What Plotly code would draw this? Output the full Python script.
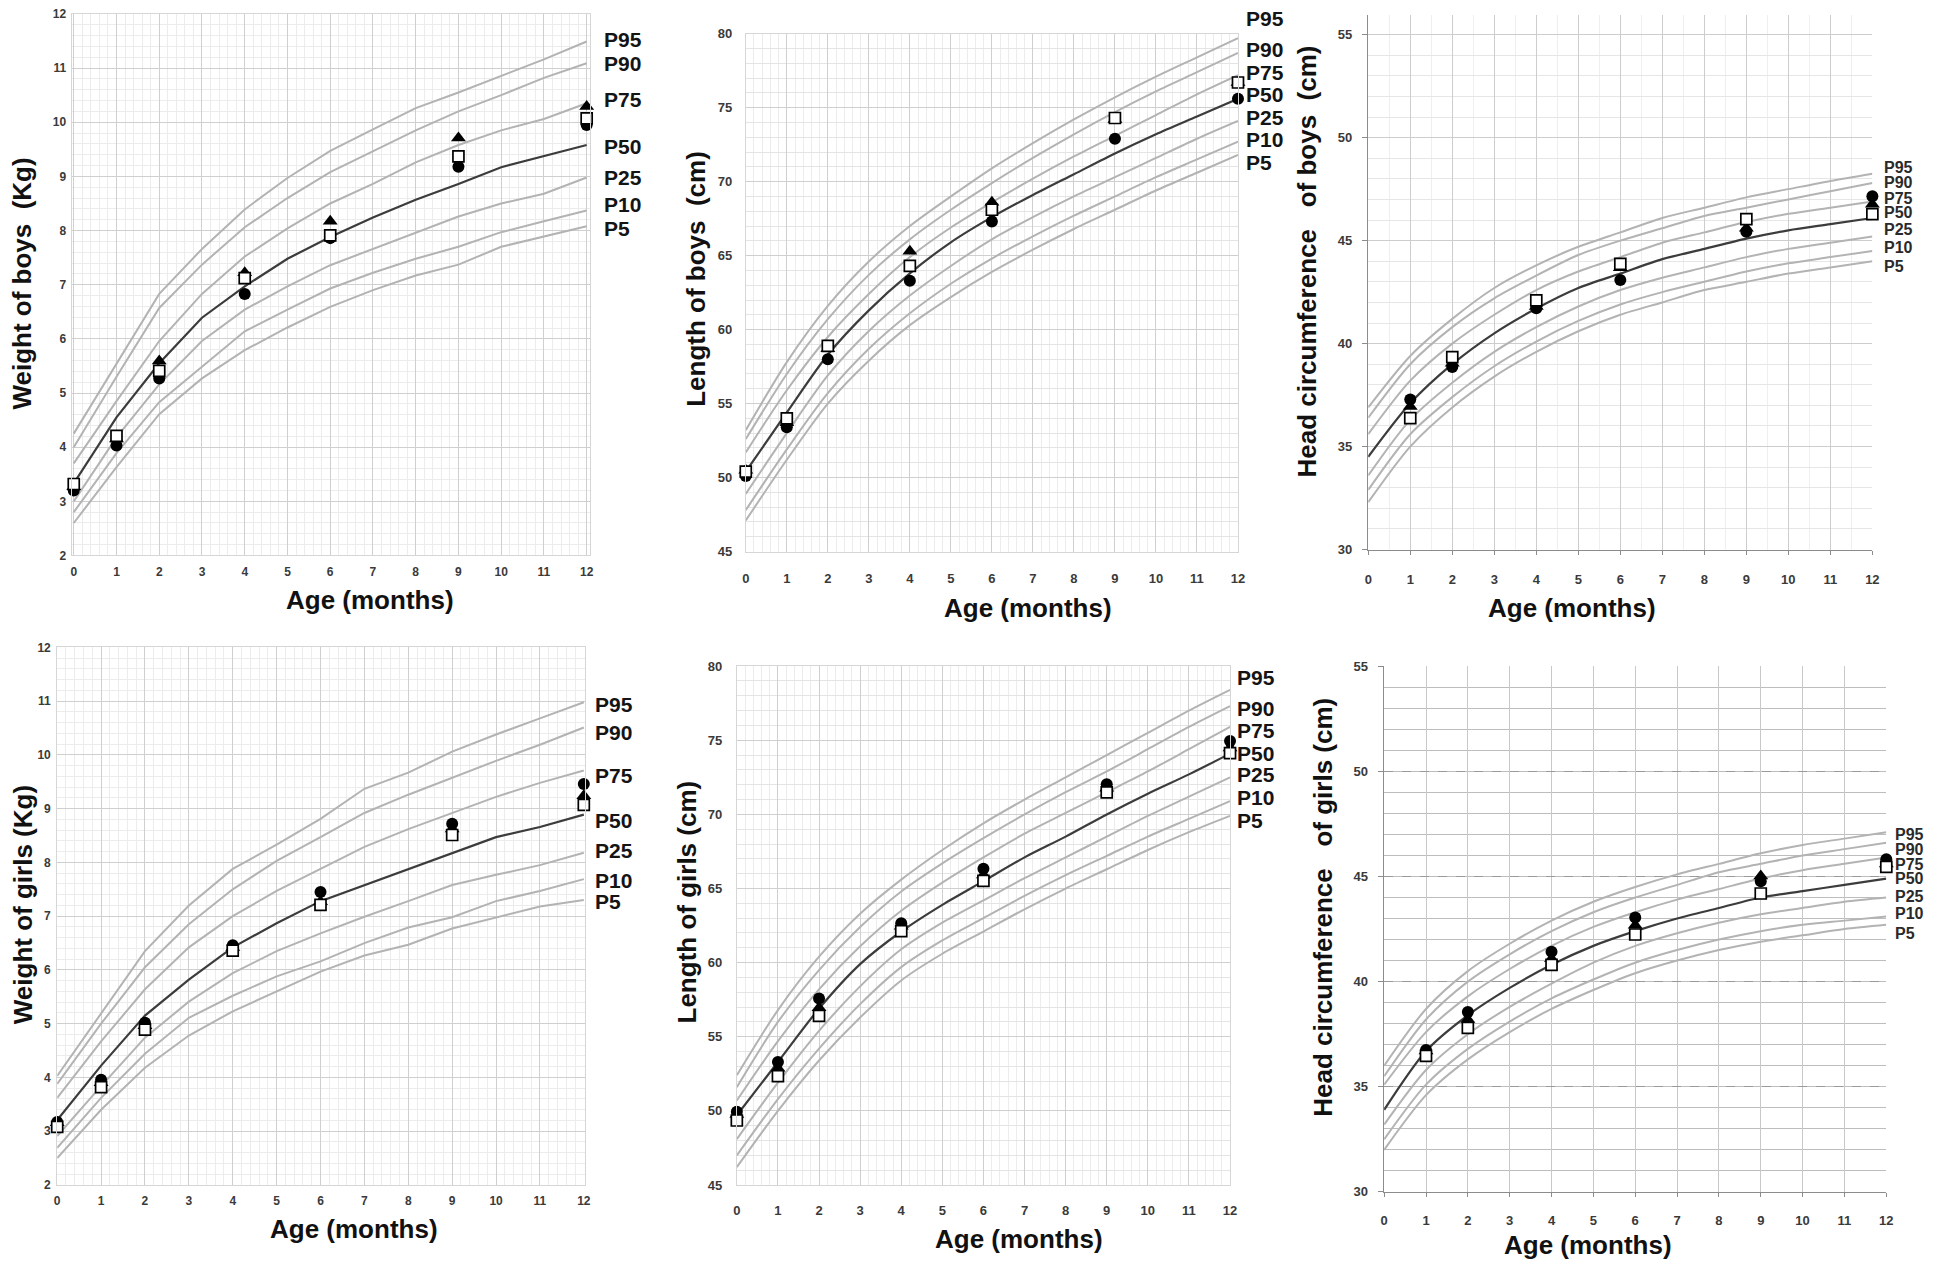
import plotly.graph_objects as go

FIG_W, FIG_H = 1946, 1277
FONT = "Arial, 'Liberation Sans', Helvetica, sans-serif"

# ---------------- data ----------------
MONTHS = [0, 1, 2, 3, 4, 5, 6, 7, 8, 9, 10, 11, 12]
VISITS = [0, 1, 2, 4, 6, 9, 12]
HC_VISITS = [1, 2, 4, 6, 9, 12]
PCT_LABELS = ["P95", "P90", "P75", "P50", "P25", "P10", "P5"]
X_TICK_VALS = MONTHS
X_TICK_TEXT = [str(m) for m in MONTHS]
W_Y_TICKS = [2, 3, 4, 5, 6, 7, 8, 9, 10, 11, 12]
L_Y_TICKS = [45, 50, 55, 60, 65, 70, 75, 80]
HC_Y_TICKS = [30, 35, 40, 45, 50, 55]

# Weight of boys (kg)
BW_P95 = [4.25, 5.55, 6.83, 7.66, 8.39, 8.97, 9.47, 9.87, 10.26, 10.55, 10.85, 11.16, 11.49]
BW_P90 = [4.00, 5.30, 6.57, 7.37, 8.06, 8.60, 9.08, 9.47, 9.85, 10.20, 10.50, 10.82, 11.09]
BW_P75 = [3.70, 4.85, 5.96, 6.83, 7.52, 8.04, 8.50, 8.86, 9.26, 9.58, 9.85, 10.06, 10.35]
BW_P50 = [3.33, 4.55, 5.55, 6.39, 6.97, 7.48, 7.88, 8.24, 8.57, 8.86, 9.17, 9.37, 9.58]
BW_P25 = [3.00, 4.18, 5.16, 5.96, 6.54, 6.97, 7.36, 7.66, 7.97, 8.26, 8.50, 8.68, 8.98]
BW_P10 = [2.80, 3.89, 4.83, 5.48, 6.14, 6.54, 6.93, 7.22, 7.48, 7.70, 7.97, 8.17, 8.37]
BW_P5 = [2.60, 3.63, 4.61, 5.27, 5.79, 6.21, 6.59, 6.90, 7.17, 7.37, 7.70, 7.89, 8.08]
BW_CIRCLE = [3.20, 4.03, 5.27, 6.83, 7.86, 9.18, 9.95]
BW_TRIANGLE = [3.27, 4.15, 5.59, 7.22, 8.17, 9.71, 10.29]
BW_SQUARE = [3.32, 4.21, 5.41, 7.12, 7.91, 9.37, 10.07]

# Length of boys (cm)
BL_P95 = [53.2, 57.8, 61.6, 64.6, 67.0, 69.0, 70.9, 72.6, 74.2, 75.7, 77.1, 78.4, 79.7]
BL_P90 = [52.6, 57.0, 60.7, 63.7, 66.1, 68.1, 69.9, 71.6, 73.2, 74.7, 76.1, 77.4, 78.7]
BL_P75 = [51.7, 55.9, 59.5, 62.4, 64.9, 66.9, 68.6, 70.2, 71.7, 73.1, 74.5, 75.9, 77.2]
BL_P50 = [50.4, 54.4, 58.3, 61.3, 63.8, 65.9, 67.6, 69.1, 70.5, 71.9, 73.2, 74.4, 75.6]
BL_P25 = [48.9, 53.0, 56.9, 59.9, 62.3, 64.3, 66.1, 67.6, 69.0, 70.3, 71.6, 72.9, 74.1]
BL_P10 = [47.8, 51.9, 55.7, 58.7, 61.1, 63.1, 64.8, 66.3, 67.7, 69.0, 70.3, 71.5, 72.7]
BL_P5 = [47.1, 51.2, 55.0, 57.9, 60.3, 62.2, 63.9, 65.4, 66.8, 68.1, 69.4, 70.6, 71.8]
BL_CIRCLE = [50.1, 53.4, 58.0, 63.3, 67.3, 72.9, 75.6]
BL_TRIANGLE = [50.5, 53.7, 58.7, 65.3, 68.6, 74.2, 76.7]
BL_SQUARE = [50.4, 54.0, 58.9, 64.3, 68.1, 74.3, 76.7]

# Head circumference of boys (cm)
BH_P95 = [36.9, 39.4, 41.2, 42.7, 43.8, 44.7, 45.4, 46.1, 46.6, 47.1, 47.5, 47.9, 48.25]
BH_P90 = [36.4, 39.0, 40.8, 42.2, 43.3, 44.3, 45.0, 45.6, 46.2, 46.6, 47.0, 47.4, 47.8]
BH_P75 = [35.6, 38.2, 40.0, 41.4, 42.6, 43.5, 44.2, 44.9, 45.4, 45.9, 46.3, 46.6, 46.9]
BH_P50 = [34.5, 37.1, 39.0, 40.5, 41.7, 42.7, 43.4, 44.1, 44.6, 45.1, 45.5, 45.8, 46.1]
BH_P25 = [33.6, 36.3, 38.1, 39.6, 40.8, 41.8, 42.6, 43.2, 43.7, 44.2, 44.6, 44.9, 45.2]
BH_P10 = [32.9, 35.6, 37.4, 38.9, 40.1, 41.1, 41.9, 42.5, 43.0, 43.5, 43.9, 44.2, 44.5]
BH_P5 = [32.3, 35.0, 36.9, 38.4, 39.6, 40.6, 41.4, 42.0, 42.6, 43.0, 43.4, 43.7, 44.0]
BH_CIRCLE = [37.28, 38.86, 41.72, 43.09, 45.43, 47.15]
BH_TRIANGLE = [36.95, 39.05, 41.80, 43.68, 45.60, 46.77]
BH_SQUARE = [36.38, 39.34, 42.10, 43.87, 46.04, 46.29]

# Weight of girls (kg)
GW_P95 = [4.03, 5.20, 6.35, 7.20, 7.88, 8.33, 8.81, 9.37, 9.67, 10.06, 10.38, 10.68, 10.98]
GW_P90 = [3.88, 5.00, 6.05, 6.85, 7.50, 8.03, 8.47, 8.92, 9.26, 9.58, 9.89, 10.19, 10.51]
GW_P75 = [3.62, 4.67, 5.64, 6.42, 7.00, 7.47, 7.88, 8.29, 8.62, 8.92, 9.22, 9.48, 9.71]
GW_P50 = [3.21, 4.22, 5.15, 5.82, 6.42, 6.87, 7.28, 7.58, 7.88, 8.18, 8.47, 8.66, 8.89]
GW_P25 = [2.91, 3.84, 4.74, 5.41, 5.94, 6.35, 6.68, 6.99, 7.28, 7.58, 7.77, 7.95, 8.18]
GW_P10 = [2.69, 3.62, 4.44, 5.11, 5.52, 5.88, 6.16, 6.50, 6.79, 6.98, 7.28, 7.47, 7.69]
GW_P5 = [2.50, 3.40, 4.18, 4.78, 5.23, 5.60, 5.97, 6.27, 6.47, 6.77, 6.98, 7.18, 7.30]
GW_CIRCLE = [3.17, 3.96, 5.02, 6.46, 7.45, 8.72, 9.46]
GW_TRIANGLE = [3.16, 3.90, 4.96, 6.42, 7.27, 8.62, 9.24]
GW_SQUARE = [3.08, 3.82, 4.89, 6.36, 7.21, 8.51, 9.07]

# Length of girls (cm)
GL_P95 = [52.4, 56.8, 60.4, 63.3, 65.6, 67.6, 69.4, 71.0, 72.5, 74.0, 75.5, 77.0, 78.4]
GL_P90 = [51.6, 56.0, 59.5, 62.4, 64.8, 66.7, 68.4, 70.0, 71.5, 72.9, 74.4, 75.9, 77.3]
GL_P75 = [50.7, 54.7, 58.2, 61.1, 63.5, 65.4, 67.1, 68.7, 70.1, 71.5, 72.9, 74.4, 75.9]
GL_P50 = [49.7, 53.3, 56.9, 59.9, 62.1, 63.9, 65.5, 67.1, 68.5, 70.0, 71.4, 72.7, 74.1]
GL_P25 = [48.1, 51.9, 55.4, 58.4, 60.9, 62.7, 64.2, 65.7, 67.1, 68.5, 69.9, 71.2, 72.5]
GL_P10 = [47.0, 50.8, 54.2, 57.2, 59.7, 61.5, 63.0, 64.5, 65.9, 67.2, 68.5, 69.7, 70.9]
GL_P5 = [46.2, 50.0, 53.4, 56.3, 58.8, 60.6, 62.1, 63.6, 65.0, 66.3, 67.6, 68.8, 69.9]
GL_CIRCLE = [49.95, 53.29, 57.58, 62.66, 66.33, 72.04, 74.95]
GL_TRIANGLE = [49.76, 52.88, 56.96, 62.45, 65.92, 71.77, 74.48]
GL_SQUARE = [49.35, 52.34, 56.41, 62.12, 65.52, 71.49, 74.13]

# Head circumference of girls (cm)
GH_P95 = [36.0, 38.7, 40.5, 41.8, 42.9, 43.8, 44.5, 45.1, 45.6, 46.1, 46.5, 46.8, 47.1]
GH_P90 = [35.5, 38.2, 40.0, 41.3, 42.4, 43.3, 44.0, 44.6, 45.2, 45.6, 46.0, 46.3, 46.6]
GH_P75 = [35.1, 37.6, 39.3, 40.6, 41.7, 42.6, 43.3, 43.9, 44.4, 44.9, 45.3, 45.6, 45.9]
GH_P50 = [33.9, 36.7, 38.4, 39.7, 40.8, 41.7, 42.4, 43.0, 43.5, 44.0, 44.3, 44.6, 44.9]
GH_P25 = [33.2, 35.8, 37.5, 38.8, 39.9, 40.9, 41.7, 42.3, 42.8, 43.2, 43.5, 43.8, 44.0]
GH_P10 = [32.5, 35.1, 36.8, 38.1, 39.2, 40.1, 40.9, 41.5, 42.0, 42.4, 42.7, 42.9, 43.1]
GH_P5 = [32.0, 34.6, 36.3, 37.6, 38.7, 39.6, 40.4, 41.0, 41.5, 41.9, 42.2, 42.5, 42.7]
GH_CIRCLE = [36.75, 38.55, 41.42, 43.05, 44.77, 45.82]
GH_TRIANGLE = [36.70, 38.20, 41.09, 42.68, 45.02, 45.59]
GH_SQUARE = [36.47, 37.80, 40.80, 42.24, 44.19, 45.46]

# ---------------- layout / style (pixel geometry of the page) ----------------
PANELS = [
    dict(curves=[BW_P95, BW_P90, BW_P75, BW_P50, BW_P25, BW_P10, BW_P5], visits=VISITS,
         circle=BW_CIRCLE, tri=BW_TRIANGLE, sq=BW_SQUARE, yticks=W_Y_TICKS,
         ytitle="Weight of boys\u00a0 (Kg)", grid="fine", yminor=0.2, spline=False,
         box=(68, 7, 589, 555), xr=[-0.05, 12.07], yr=[2, 12],
         xstand=5, ystand=2, tsize=12,
         ytitle_xy=(18, 280), xtitle_xy=(368, 600),
         plab_x=601, plab_y=[33, 57, 94, 141, 173, 200, 224], plab_size=21),
    dict(curves=[BL_P95, BL_P90, BL_P75, BL_P50, BL_P25, BL_P10, BL_P5], visits=VISITS,
         circle=BL_CIRCLE, tri=BL_TRIANGLE, sq=BL_SQUARE, yticks=L_Y_TICKS,
         ytitle="Length of boys\u00a0 (cm)", grid="fine", yminor=1, spline=True,
         box=(746, 27, 1241, 551), xr=[0, 12], yr=[45, 80],
         xstand=15, ystand=10, tsize=13,
         ytitle_xy=(696, 275), xtitle_xy=(1030, 608),
         plab_x=1247, plab_y=[12, 43, 66, 89, 111.5, 134.5, 157.5], plab_size=21),
    dict(curves=[BH_P95, BH_P90, BH_P75, BH_P50, BH_P25, BH_P10, BH_P5], visits=HC_VISITS,
         circle=BH_CIRCLE, tri=BH_TRIANGLE, sq=BH_SQUARE, yticks=HC_Y_TICKS,
         ytitle="Head circumference\u00a0\u00a0 of boys\u00a0 (cm)", grid="hcb", yminor=1, spline=True,
         box=(1372, 8, 1879, 549), xr=[0, 12], yr=[30, 55.96],
         xstand=13, ystand=7, tsize=13,
         ytitle_xy=(1310, 258), xtitle_xy=(1577, 608),
         plab_x=1889, plab_y=[162.7, 177.4, 193.7, 208.3, 225.4, 242.9, 262.7], plab_size=16),
    dict(curves=[GW_P95, GW_P90, GW_P75, GW_P50, GW_P25, GW_P10, GW_P5], visits=VISITS,
         circle=GW_CIRCLE, tri=GW_TRIANGLE, sq=GW_SQUARE, yticks=W_Y_TICKS,
         ytitle="Weight of girls (Kg)", grid="fine", yminor=0.2, spline=False,
         box=(53.5, 648, 584, 1192), xr=[0, 12.02], yr=[2, 12],
         xstand=5, ystand=3, tsize=12,
         ytitle_xy=(19, 908), xtitle_xy=(352, 1237),
         plab_x=592, plab_y=[705.7, 734, 778, 822.7, 854, 883.6, 904.8], plab_size=21),
    dict(curves=[GL_P95, GL_P90, GL_P75, GL_P50, GL_P25, GL_P10, GL_P5], visits=VISITS,
         circle=GL_CIRCLE, tri=GL_TRIANGLE, sq=GL_SQUARE, yticks=L_Y_TICKS,
         ytitle="Length of girls (cm)", grid="fine", yminor=1, spline=True,
         box=(737, 667, 1233, 1192), xr=[0, 12], yr=[45, 80],
         xstand=13, ystand=11, tsize=13,
         ytitle_xy=(687, 906), xtitle_xy=(1021, 1247),
         plab_x=1238, plab_y=[678.4, 710.2, 732.2, 755.1, 777.1, 799.9, 823.1], plab_size=21),
    dict(curves=[GH_P95, GH_P90, GH_P75, GH_P50, GH_P25, GH_P10, GH_P5], visits=HC_VISITS,
         circle=GH_CIRCLE, tri=GH_TRIANGLE, sq=GH_SQUARE, yticks=HC_Y_TICKS,
         ytitle="Head circumference\u00a0\u00a0 of girls (cm)", grid="hcg", yminor=1, spline=True,
         box=(1388, 667, 1893, 1199), xr=[0, 12], yr=[30, 55],
         xstand=12, ystand=7, tsize=13,
         ytitle_xy=(1327, 911), xtitle_xy=(1593, 1253),
         plab_x=1900, plab_y=[837.5, 852.2, 867.2, 882.3, 899.8, 917.3, 937.2], plab_size=16),
]

LIGHT_CURVE = "#b3b3b3"
DARK_CURVE = "#3c3c3c"
TICK_COLOR = "#3a3a3a"

fig = go.Figure()
layout = dict(width=FIG_W, height=FIG_H, margin=dict(l=0, r=0, t=0, b=0),
              paper_bgcolor="white", plot_bgcolor="white", showlegend=False,
              hovermode=False)
annotations = []


def ann(text, xpx, ypx, size, angle=0, xanchor="center", color="#111111"):
    return dict(text="<b>" + text + "</b>", x=xpx / FIG_W, y=1 - ypx / FIG_H,
                xref="paper", yref="paper", showarrow=False, textangle=angle,
                xanchor=xanchor, yanchor="middle",
                font=dict(family=FONT, size=size, color=color))


for i, p in enumerate(PANELS, start=1):
    xa = "x" if i == 1 else f"x{i}"
    ya = "y" if i == 1 else f"y{i}"
    x0, y0, x1, y1 = p["box"]

    # percentile curves
    for name, vals in zip(PCT_LABELS, p["curves"]):
        is_med = name == "P50"
        fig.add_trace(go.Scatter(
            x=MONTHS, y=vals, mode="lines", xaxis=xa, yaxis=ya, hoverinfo="skip",
            line=dict(color=DARK_CURVE if is_med else LIGHT_CURVE,
                      width=2.2 if is_med else 2.0,
                      shape="spline" if p["spline"] else "linear", smoothing=0.8)))

    # measured groups
    fig.add_trace(go.Scatter(x=p["visits"], y=p["circle"], mode="markers", xaxis=xa, yaxis=ya,
                             cliponaxis=False,
                             marker=dict(symbol="circle", size=12, color="black")))
    fig.add_trace(go.Scatter(x=p["visits"], y=p["tri"], mode="markers", xaxis=xa, yaxis=ya,
                             cliponaxis=False,
                             marker=dict(symbol="triangle-up", size=13, color="black")))
    fig.add_trace(go.Scatter(x=p["visits"], y=p["sq"], mode="markers", xaxis=xa, yaxis=ya,
                             cliponaxis=False,
                             marker=dict(symbol="square", size=11, color="white",
                                         line=dict(color="black", width=1.7))))

    tickfont = dict(family=FONT, size=p["tsize"], color=TICK_COLOR, weight="bold")
    xaxis = dict(domain=[x0 / FIG_W, x1 / FIG_W], range=p["xr"], anchor=ya,
                 tickvals=X_TICK_VALS, ticktext=X_TICK_TEXT, tickfont=tickfont,
                 zeroline=False, showgrid=True, gridwidth=1, fixedrange=True,
                 ticklabelstandoff=p["xstand"])
    yaxis = dict(domain=[1 - y1 / FIG_H, 1 - y0 / FIG_H], range=p["yr"], anchor=xa,
                 tickvals=p["yticks"], ticktext=[str(v) for v in p["yticks"]], tickfont=tickfont,
                 zeroline=False, showgrid=True, gridwidth=1, fixedrange=True,
                 ticklabelstandoff=p["ystand"])
    if p["grid"] == "fine":
        xaxis.update(gridcolor="#cfcfcf", ticks="", showline=True, linecolor="#d6d6d6",
                     mirror=True,
                     minor=dict(dtick=0.2, showgrid=True, gridcolor="#ececec", gridwidth=1))
        yaxis.update(gridcolor="#cfcfcf", ticks="", showline=True, linecolor="#d6d6d6",
                     mirror=True,
                     minor=dict(dtick=p["yminor"], showgrid=True,
                                gridcolor="#e4e4e4" if p["yminor"] == 1 else "#ececec",
                                gridwidth=1))
    elif p["grid"] == "hcb":
        xaxis.update(gridcolor="#cdcdcd", ticks="outside", ticklen=4, tickcolor="#8c8c8c",
                     showline=True, linecolor="#8c8c8c", linewidth=1.5,
                     minor=dict(dtick=0.5, showgrid=True, gridcolor="#efefef", gridwidth=1))
        yaxis.update(gridcolor="#cdcdcd", ticks="outside", ticklen=5, tickcolor="#8c8c8c",
                     showline=True, linecolor="#8c8c8c", linewidth=1.5,
                     minor=dict(dtick=1, showgrid=True, gridcolor="#e6e6e6", gridwidth=1))
    else:  # hcg
        xaxis.update(gridcolor="#c8c8c8", ticks="outside", ticklen=4, tickcolor="#8c8c8c",
                     showline=True, linecolor="#8c8c8c", linewidth=1.5)
        yaxis.update(gridcolor="#9a9a9a", griddash="dash", ticks="outside", ticklen=5,
                     tickcolor="#8c8c8c", showline=True, linecolor="#8c8c8c", linewidth=1.5,
                     minor=dict(dtick=1, showgrid=True, gridcolor="#bdbdbd", gridwidth=1,
                                griddash="solid"))

    layout["xaxis" if i == 1 else f"xaxis{i}"] = xaxis
    layout["yaxis" if i == 1 else f"yaxis{i}"] = yaxis

    # titles
    annotations.append(ann(p["ytitle"], p["ytitle_xy"][0], p["ytitle_xy"][1], 26, angle=-90))
    annotations.append(ann("Age (months)", p["xtitle_xy"][0], p["xtitle_xy"][1], 26))
    # percentile labels
    for name, ypx in zip(PCT_LABELS, p["plab_y"]):
        annotations.append(ann(name, p["plab_x"], ypx, p["plab_size"], xanchor="left",
                               color="#141414" if p["plab_size"] > 18 else "#2a2a2a"))

layout["annotations"] = annotations
fig.update_layout(**layout)
fig.write_html(
    "out.html",
    config={"displayModeBar": False, "staticPlot": True},
    post_script="document.body.style.margin='0px';document.body.style.padding='0px';"
                "document.documentElement.style.overflow='hidden';",
)
